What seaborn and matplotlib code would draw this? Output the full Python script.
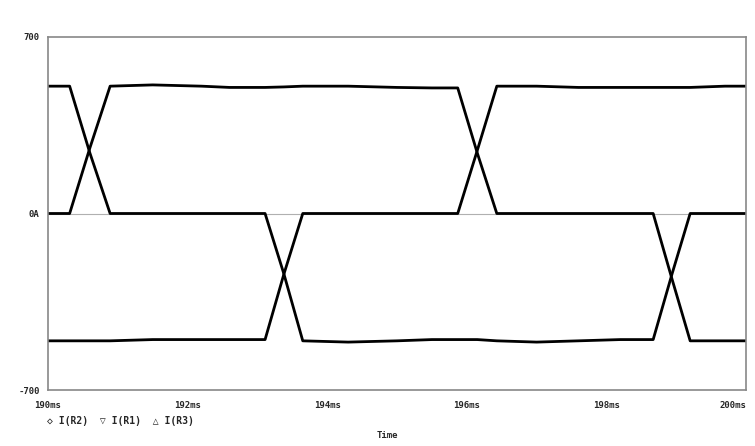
#!/usr/bin/env python
# Three resistor currents over 190..200 ms (PSpice style probe plot)
import numpy as np
import pandas as pd
import matplotlib
matplotlib.use('Agg')
import matplotlib.pyplot as plt
import seaborn as sns

# time points in ms
time_ms = [190.0, 190.31, 190.6, 190.89, 191.5, 192.2, 192.6, 193.11, 193.38, 193.65,
           194.3, 195.0, 195.5, 195.87, 196.15, 196.43, 197.0, 197.6, 198.2, 198.67,
           198.94, 199.2, 199.7, 200.0]
# currents in mA
i_r2 = [505, 505, 240, 0, 0, 0, 0, 0, -240, -505,
        -510, -505, -500, -500, -500, -505, -510, -505, -500, -500,
        -240, 0, 0, 0]
i_r1 = [0, 0, 260, 505, 510, 505, 500, 500, 502, 505,
        505, 500, 498, 498, 240, 0, 0, 0, 0, 0,
        -260, -505, -505, -505]
i_r3 = [-505, -505, -505, -505, -500, -500, -500, -500, -240, 0,
        0, 0, 0, 0, 250, 505, 505, 500, 500, 500,
        500, 500, 505, 505]
series_names = ['I(R2)', 'I(R1)', 'I(R3)']

x_ticks = [190, 192, 194, 196, 198, 200]
x_labels = ['190ms', '192ms', '194ms', '196ms', '198ms', '200ms']
y_ticks = [-700, 0, 700]
y_labels = ['-700', '0A', '700']

df = pd.concat([
    pd.DataFrame({'t': time_ms, 'i': vals, 'name': nm})
    for nm, vals in zip(series_names, [i_r2, i_r1, i_r3])
])

sns.set_style('white')
plt.rcParams['font.family'] = ['DejaVu Sans Mono', 'DejaVu Sans']

fig = plt.figure(figsize=(7.55, 4.46), dpi=100)
ax = fig.add_axes([48/755, 1-390/446, (746-48)/755, (390-37)/446])

ax.axhline(0, color='#b0b0b0', lw=0.8, zorder=1)
sns.lineplot(data=df, x='t', y='i', hue='name', palette=['black']*3,
             linewidth=2.0, legend=False, ax=ax, sort=False, estimator=None)

ax.set_xlim(190, 200)
ax.set_ylim(-700, 700)
ax.set_xticks(x_ticks)
ax.set_xticklabels(x_labels)
ax.set_yticks(y_ticks)
ax.set_yticklabels(y_labels)
ax.tick_params(axis='x', direction='in', length=4, color='#888888', labelsize=6.5, pad=8)
ax.tick_params(axis='y', direction='out', length=5, color='#888888', labelsize=6.5, pad=1)
for lab in ax.get_xticklabels() + ax.get_yticklabels():
    lab.set_fontweight('bold')
ax.get_xticklabels()[-1].set_horizontalalignment('right')
ax.get_xticklabels()[-1].set_x(200.03)
for sp in ax.spines.values():
    sp.set_color('#888888')
    sp.set_linewidth(1.2)
ax.set_xlabel('')
ax.set_ylabel('')

fig.text(47/755, 1-421/446, '\u25c7 I(R2)  \u25bd I(R1)  \u25b3 I(R3)',
         fontsize=7, fontweight='bold', va='center', ha='left')
fig.text(387/755, 1-436/446, 'Time', fontsize=6.5, fontweight='bold',
         va='center', ha='center')

fig.savefig('out.png', dpi=100)
